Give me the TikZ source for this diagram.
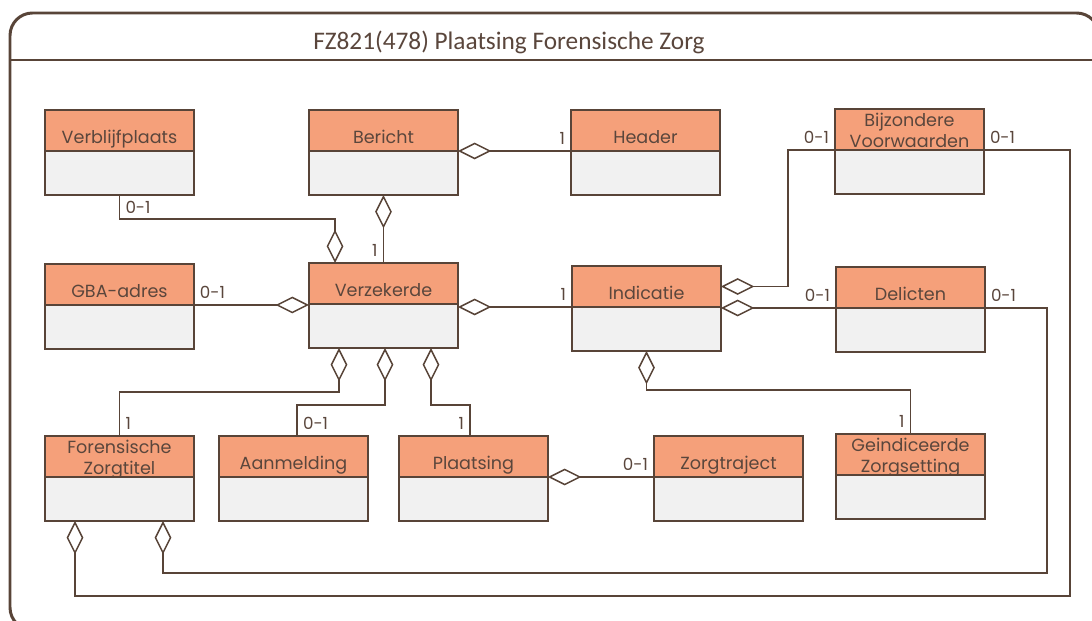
\documentclass[tikz,border=0pt]{standalone}
\usepackage{fontspec}
\usetikzlibrary{arrows.meta,calc,positioning}
\newfontfamily\gothic{Poppins}
\newfontfamily\titlefont{Carlito}
\definecolor{uline}{RGB}{88,68,56}
\definecolor{uhead}{RGB}{245,160,122}
\definecolor{ubody}{RGB}{241,241,241}
\definecolor{utext}{RGB}{90,70,60}

\begin{document}
\begin{tikzpicture}[x=0.02cm, y=-0.02cm,
  klasse/.style={draw=uline, fill=uhead, line width=1.1pt, minimum width=2.98cm,
    minimum height=0.82cm, inner sep=1pt, outer sep=0pt, anchor=north west,
    text=utext, font=\gothic\fontsize{10}{12}\selectfont, text height=15pt, text depth=0pt},
  klasse2/.style={klasse, text height=20.8pt, text depth=0pt, align=center},
  body/.style={draw=uline, fill=ubody, line width=1.1pt, minimum width=2.98cm,
    minimum height=0.88cm, outer sep=0pt},
  agg/.style={draw=uline, line width=0.85pt, -{Diamond[open, length=19pt, width=9.5pt]}},
  mult/.style={text=utext, font=\gothic\fontsize{9.5}{11}\selectfont, inner sep=3pt}]
  \useasboundingbox (0,0) rectangle (1092,621);
  \clip (0,0) rectangle (1092,621);
  % package frame with its name tab
  \draw[uline, line width=1.7pt, rounded corners=0.45cm] (10,630) -- (10,13) -- (1099,13) -- (1099,630) -- cycle;
  \draw[uline, line width=1.7pt] (10,60) -- (1099,60);
  \node[font=\titlefont\fontsize{14.4}{17}\selectfont, text=utext] (titel) at (509,42) {FZ821(478) Plaatsing Forensische Zorg};
  % classes: orange name part, empty grey attribute part
  \foreach \n/\x/\y/\t in {verbl/45/110/Verblijfplaats, bericht/309/110/Bericht, header/571/110/Header,
      gba/45/264/GBA-adres, verz/309/263/Verzekerde, indic/572/266/Indicatie, delict/836/267/Delicten,
      aanm/219/436/Aanmelding, plaats/399/436/Plaatsing, zorgtr/654/436/Zorgtraject} {
    \node[klasse] (\n) at (\x,\y) {\t};
    \node[body, below=0pt of \n] (\n-b) {};
  }
  \foreach \n/\x/\y/\t in {bijz/835/109/{Bijzondere\\Voorwaarden}, fzt/45/436/{Forensische\\Zorgtitel},
      geind/836/434/{Geindiceerde\\Zorgsetting}} {
    \node[klasse2] (\n) at (\x,\y) {\t};
    \node[body, below=0pt of \n] (\n-b) {};
  }
  % aggregations around Bericht and Verzekerde
  \draw[agg] (header.south west) node[mult, above left] {1} -- (bericht.south east);
  \draw[agg] (verz.north) node[mult, above left] {1} -- (bericht-b.south);
  \draw[agg] (verbl-b.south) node[mult, below right] {0-1} -- ++(0,24) -| ($(verz.north west)+(26,0)$);
  \draw[agg] (gba.south east) node[mult, above right] {0-1} -- (gba.south east -| verz.west);
  \draw[agg] (indic.south west) node[mult, above left] {1} -- (indic.south west -| verz.east);
  \draw[agg] (fzt.north) node[mult, above right] {1} -- ++(0,-44) -| ($(verz-b.south west)+(30,0)$);
  \draw[agg] ($(aanm.north west)+(78,0)$) node[mult, above right] {0-1} -- ++(0,-31) -| ($(verz-b.south west)+(76,0)$);
  \draw[agg] ($(plaats.north west)+(71,0)$) node[mult, above left] {1} -- ++(0,-31) -| ($(verz-b.south west)+(122,0)$);
  \draw[agg] (zorgtr.south west) node[mult, above left] {0-1} -- (plaats.south east);
  % aggregations around Indicatie
  \draw[agg] (geind.north) node[mult, above left] {1} -- ++(0,-44) -| (indic-b.south);
  \draw[agg] (bijz.south west) node[mult, above left] {0-1} -- ++(-47,0) |- (indic.east);
  \draw[agg] (delict.south west) node[mult, above left] {0-1} -- (delict.south west -| indic.east);
  % long routes round the outside back to Forensische Zorgtitel
  \draw[agg] (delict.south east) node[mult, above right] {0-1} -- ++(62,0) |- ($(fzt-b.south west)+(118,52)$) -- ($(fzt-b.south west)+(118,0)$);
  \draw[agg] (bijz.south east) node[mult, above right] {0-1} -- ++(86,0) |- ($(fzt-b.south west)+(30,75)$) -- ($(fzt-b.south west)+(30,0)$);
\end{tikzpicture}
\end{document}
